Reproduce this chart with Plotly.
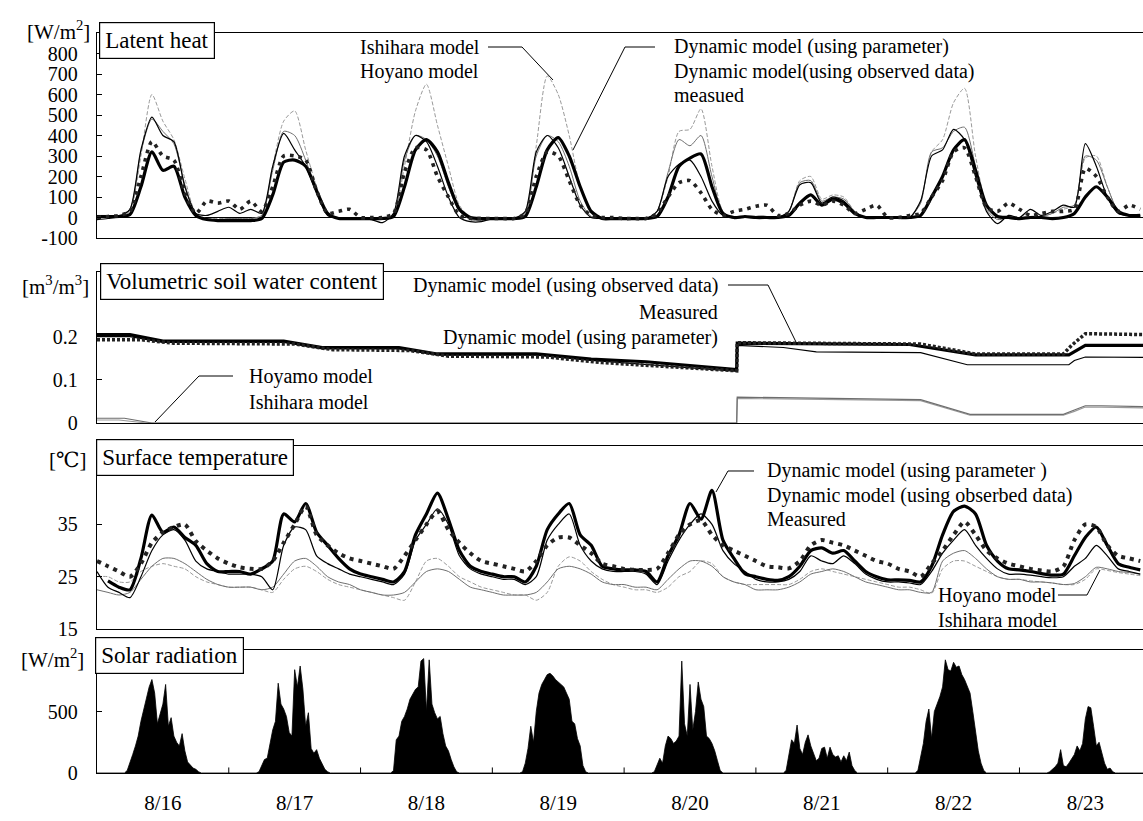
import plotly.graph_objects as go

W, H = 1143, 821
FONT = "Liberation Serif, Times New Roman, DejaVu Serif, serif"

# ---------------- data ----------------
dates = ["8/16", "8/17", "8/18", "8/19", "8/20", "8/21", "8/22", "8/23"]
HOURS_2H = list(range(0, 192, 2))          # 8/16 0:00 .. 8/23 22:00, every 2 h
SOLAR_STEP_START = 5.0                      # solar lists start at 5:00, every 30 min

# Latent heat [W/m2], one list per day (0,2,...,22 h)
lh_ishihara = [
    [5, 5, 5, 30, 300, 600, 470, 380, 190, 20, -5, -5],
    [-5, -5, -5, 10, 250, 470, 520, 330, 150, 20, -5, -5],
    [-5, -5, -10, 10, 250, 520, 650, 450, 250, 60, 0, -5],
    [-5, -5, -5, 20, 350, 690, 600, 400, 150, 20, -5, -5],
    [-5, -5, -5, 30, 200, 420, 430, 530, 250, 30, -5, 0],
    [5, 5, 0, 30, 180, 200, 90, 110, 100, 30, 0, 0],
    [0, 0, 0, 80, 320, 380, 560, 630, 300, 60, 0, 0],
    [0, 5, 5, 20, 40, 60, 290, 300, 150, 30, 10, 5],
]
lh_hoyano = [
    [10, 10, 10, 40, 320, 480, 420, 360, 160, 20, -10, -10],
    [-5, -5, -5, 10, 230, 420, 400, 280, 130, 20, -5, -5],
    [-5, -5, -10, 10, 280, 400, 380, 300, 150, 30, -10, -15],
    [-5, -5, -5, 20, 300, 400, 370, 250, 80, 5, -5, -5],
    [-5, -5, -5, 30, 220, 380, 350, 400, 200, 20, -5, 0],
    [5, 5, 0, 30, 170, 180, 80, 100, 90, 30, 0, 0],
    [0, 0, 0, 70, 320, 340, 420, 440, 250, 40, -10, 0],
    [0, 5, 5, 20, 50, 60, 300, 280, 150, 30, 10, 5],
]
lh_dyn_param = [
    [5, 5, 5, 15, 150, 320, 230, 250, 100, 10, -10, -15],
    [-15, -15, -15, -5, 110, 270, 280, 250, 130, 20, -5, -5],
    [-5, -5, -5, 5, 150, 330, 380, 320, 170, 40, 0, -5],
    [-5, -5, -5, 5, 150, 330, 390, 300, 150, 30, -5, -5],
    [-5, -5, -5, 5, 100, 250, 290, 310, 150, 20, 0, 5],
    [0, 0, 0, 10, 70, 110, 60, 90, 70, 20, 0, 0],
    [0, 0, 0, 10, 100, 200, 330, 380, 230, 60, 5, 0],
    [-5, 0, 0, -5, 0, 20, 100, 150, 100, 30, 10, 10],
]
lh_dyn_obs = [
    [-10, -5, 5, 40, 330, 490, 400, 370, 150, 20, 10, 30],
    [50, 20, 40, 20, 250, 410, 330, 250, 120, 10, 0, -5],
    [-5, -10, -25, 20, 300, 400, 370, 250, 100, 0, -20, -20],
    [-5, -5, -5, 30, 320, 400, 340, 200, 60, 0, -5, -5],
    [-5, -5, -5, 30, 200, 260, 280, 200, 80, 10, 5, 5],
    [5, 5, 0, 30, 160, 170, 70, 100, 80, 25, 0, 0],
    [0, 0, 0, 80, 300, 330, 430, 380, 200, 30, -30, 10],
    [0, 40, 10, 30, 60, 50, 360, 250, 100, 20, 10, 10],
]
lh_measured = [
    [0, 5, 10, 30, 200, 370, 300, 280, 120, 20, 80, 70],
    [80, 40, 80, 30, 150, 300, 300, 280, 130, 20, 30, 40],
    [0, 0, 0, 20, 220, 340, 330, 200, 100, 10, -5, -5],
    [-5, -5, -5, 20, 200, 320, 300, 180, 60, 10, 0, 0],
    [-5, -5, -5, 20, 100, 170, 180, 120, 40, 10, 30, 40],
    [55, 60, 10, 20, 60, 80, 60, 80, 60, 20, 40, 60],
    [0, 0, 10, 20, 100, 180, 320, 340, 200, 50, 30, 70],
    [40, 10, 20, 30, 30, 40, 240, 200, 100, 30, 60, 40],
]

# Volumetric soil water content [m3/m3] : (hour, value) break points
sw_dyn_param_t = [0, 6, 12, 34, 41, 55, 62, 80, 90, 100, 116.5, 116.6, 148, 160, 177, 178, 180, 190.5]
sw_dyn_param_v = [0.205, 0.205, 0.19, 0.19, 0.175, 0.175, 0.16, 0.16, 0.148, 0.142, 0.124, 0.185, 0.182, 0.158, 0.158, 0.165, 0.18, 0.18]
sw_measured_t = [0, 8, 14, 36, 43, 57, 64, 82, 92, 116.5, 116.6, 150, 160, 176, 177.5, 178.5, 180, 190.5]
sw_measured_v = [0.193, 0.193, 0.185, 0.183, 0.17, 0.168, 0.155, 0.153, 0.14, 0.121, 0.186, 0.183, 0.16, 0.16, 0.18, 0.19, 0.207, 0.205]
sw_dyn_obs_t = [0, 6, 12, 34, 41, 55, 62, 80, 90, 116.5, 116.6, 125, 131, 150, 158.5, 177, 178, 180, 190.5]
sw_dyn_obs_v = [0.2, 0.2, 0.187, 0.187, 0.172, 0.172, 0.157, 0.157, 0.145, 0.12, 0.18, 0.175, 0.165, 0.163, 0.135, 0.135, 0.145, 0.153, 0.152]
sw_hoyano_t = [0, 5, 10, 116.5, 116.6, 150, 159, 176, 178, 180, 183, 190.5]
sw_hoyano_v = [0.011, 0.011, 0.0, 0.0, 0.06, 0.054, 0.02, 0.02, 0.03, 0.04, 0.04, 0.038]
sw_ishihara_t = [0, 4, 9, 116.5, 116.6, 150, 159, 176, 178, 180, 183, 190.5]
sw_ishihara_v = [0.007, 0.007, 0.0, 0.0, 0.057, 0.052, 0.018, 0.018, 0.027, 0.037, 0.037, 0.035]

# Surface temperature [C], one list per day (0,2,...,22 h)
st_dyn_param = [
    [None, 24.2, 23.0, 22.5, 28.5, 36.8, 33.5, 34.5, 32.5, 31.0, 27.5, 26.0],
    [26.0, 26.0, 25.5, 26.5, 28.0, 37.0, 35.5, 39.0, 33.5, 31.0, 28.5, 26.5],
    [25.5, 25.0, 24.5, 24.0, 26.0, 33.0, 37.0, 41.0, 36.0, 30.0, 27.0, 26.0],
    [25.5, 25.0, 25.0, 24.0, 27.0, 34.0, 37.0, 39.0, 33.0, 31.0, 27.0, 26.5],
    [26.3, 26.3, 26.0, 24.0, 29.0, 33.0, 39.0, 36.0, 41.5, 32.0, 28.5, 25.6],
    [25.0, 24.5, 24.3, 25.0, 27.0, 30.0, 30.5, 29.5, 30.0, 28.0, 26.0, 25.0],
    [24.4, 24.4, 24.3, 24.0, 27.0, 33.0, 37.5, 38.5, 37.0, 31.0, 28.0, 26.5],
    [26.3, 26.0, 25.6, 25.3, 25.5, 29.0, 32.5, 34.5, 31.0, 27.5, 26.8, 26.3],
]
st_dyn_obs = [
    [26.0, 23.0, 22.0, 21.0, 25.0, 30.0, 33.0, 34.0, 32.0, 28.0, 26.5, 26.0],
    [25.5, 25.5, 25.5, 25.0, 22.5, 31.0, 34.5, 34.0, 29.0, 27.5, 26.5, 25.5],
    [25.0, 24.5, 24.0, 23.5, 25.5, 32.0, 35.0, 38.0, 35.0, 29.0, 26.5, 25.5],
    [25.0, 24.5, 24.5, 23.5, 25.0, 32.0, 35.0, 37.0, 31.0, 28.0, 26.5, 26.0],
    [26.0, 26.0, 25.5, 23.5, 28.0, 32.0, 35.0, 37.0, 35.0, 30.0, 27.5, 26.0],
    [24.5, 24.0, 24.0, 24.5, 26.0, 29.0, 28.0, 27.5, 29.0, 27.5, 25.5, 24.5],
    [24.0, 24.0, 23.8, 23.5, 26.0, 29.5, 32.0, 34.0, 31.0, 28.5, 26.5, 25.5],
    [25.5, 25.3, 25.0, 24.8, 25.0, 27.0, 28.5, 31.0, 29.0, 26.5, 26.0, 25.5],
]
st_measured = [
    [28.0, 27.0, 26.0, 25.0, 27.5, 31.5, 33.5, 34.5, 35.0, 31.8, 30.0, 28.5],
    [27.5, 26.8, 26.5, 26.5, 28.0, 31.5, 35.0, 38.5, 33.0, 31.0, 29.5, 28.5],
    [28.0, 27.5, 27.0, 26.5, 29.0, 32.0, 35.0, 37.5, 34.0, 31.5, 29.5, 28.0],
    [27.5, 27.0, 26.5, 26.0, 28.0, 31.0, 32.5, 32.5, 31.0, 29.5, 27.5, 27.0],
    [26.5, 26.3, 26.3, 26.5, 29.5, 33.0, 35.0, 35.8, 33.0, 31.0, 30.0, 29.0],
    [28.0, 27.0, 26.8, 26.6, 28.0, 31.0, 32.0, 31.5, 31.0, 30.0, 29.0, 28.0],
    [27.5, 26.5, 26.0, 25.0, 27.5, 30.0, 33.0, 35.5, 33.0, 30.0, 28.5, 27.5],
    [27.0, 26.5, 26.2, 26.0, 27.0, 32.0, 35.0, 34.5, 31.0, 29.0, 28.5, 28.0],
]
st_hoyano = [
    [22.5, 22.0, 21.5, 22.0, 24.5, 27.0, 28.5, 28.5, 27.5, 26.0, 24.5, 23.5],
    [23.0, 23.0, 23.0, 22.5, 23.0, 25.5, 28.0, 28.5, 27.0, 25.0, 24.0, 23.5],
    [22.5, 22.0, 21.5, 21.5, 22.0, 24.0, 26.0, 26.5, 26.0, 24.5, 23.0, 22.5],
    [22.0, 21.5, 21.5, 21.5, 22.0, 24.0, 26.5, 27.0, 26.5, 25.5, 24.0, 23.5],
    [23.5, 23.0, 23.0, 22.5, 24.5, 26.5, 28.0, 28.0, 27.0, 25.0, 24.0, 23.5],
    [22.5, 22.5, 22.5, 23.0, 24.0, 25.5, 26.0, 26.5, 26.0, 25.0, 24.0, 23.5],
    [23.0, 22.5, 22.5, 22.0, 22.0, 28.0, 29.5, 30.0, 28.5, 26.5, 25.0, 24.5],
    [24.5, 24.0, 24.0, 23.8, 23.5, 23.7, 25.0, 26.8, 26.5, 26.0, 25.8, 25.5],
]
st_ishihara = [
    [25.0, 25.0, 24.0, 24.0, 26.0, 27.0, 27.5, 27.0, 26.5, 25.0, 24.0, 23.5],
    [23.0, 23.0, 23.0, 22.5, 22.0, 24.5, 26.5, 27.0, 26.0, 24.5, 23.5, 23.0],
    [22.5, 22.0, 21.5, 21.0, 20.5, 24.0, 28.0, 28.5, 27.0, 25.0, 24.0, 23.0],
    [22.5, 22.0, 21.5, 21.5, 20.5, 22.0, 27.0, 28.8, 28.0, 26.0, 24.5, 23.5],
    [23.0, 22.5, 22.5, 22.0, 23.0, 25.0, 26.0, 28.0, 27.5, 25.0, 24.0, 23.5],
    [23.5, 23.5, 23.5, 23.5, 24.5, 26.0, 26.5, 26.0, 25.5, 25.0, 24.5, 24.0],
    [23.5, 23.0, 23.0, 22.5, 21.8, 26.5, 28.0, 28.0, 27.0, 26.0, 25.0, 24.5],
    [24.5, 24.2, 24.0, 23.8, 23.5, 23.5, 24.5, 26.5, 26.2, 25.8, 25.5, 25.2],
]

# Solar radiation [W/m2], one list per day, 5:00 .. 19:00 every 30 min
solar = [
    [0, 20, 80, 150, 220, 300, 420, 520, 600, 700, 760, 650, 400, 480, 560, 720, 380, 450, 300, 250, 220, 320, 180, 90, 60, 40, 30, 10, 0],
    [0, 10, 60, 110, 120, 250, 350, 420, 730, 560, 520, 460, 330, 300, 840, 700, 870, 680, 380, 490, 200, 160, 190, 120, 70, 30, 10, 0, 0],
    [0, 0, 20, 270, 300, 420, 460, 520, 600, 640, 680, 700, 910, 930, 500, 920, 560, 490, 440, 460, 320, 220, 180, 110, 50, 10, 0, 0, 0],
    [0, 10, 80, 200, 380, 250, 500, 650, 720, 760, 800, 810, 790, 760, 740, 720, 700, 650, 600, 420, 400, 280, 220, 60, 10, 0, 0, 0, 0],
    [0, 10, 60, 120, 80, 220, 300, 280, 240, 260, 300, 910, 400, 300, 720, 350, 500, 740, 600, 540, 300, 280, 240, 180, 100, 20, 0, 0, 0],
    [0, 20, 150, 270, 240, 390, 200, 150, 250, 310, 220, 160, 100, 120, 200, 210, 120, 210, 150, 130, 140, 90, 140, 100, 170, 60, 20, 0, 0],
    [0, 20, 120, 240, 420, 520, 280, 500, 560, 620, 700, 920, 840, 830, 900, 860, 870, 800, 760, 700, 650, 500, 320, 180, 80, 20, 0, 0, 0],
    [0, 10, 30, 50, 80, 190, 60, 50, 80, 120, 150, 220, 180, 240, 440, 540, 530, 380, 220, 250, 160, 80, 30, 40, 10, 0, 0, 0, 0],
]


def flat(days):
    return [v for day in days for v in day]


solar_x, solar_y = [0.0], [0.0]
for d, day in enumerate(solar):
    for k, v in enumerate(day):
        solar_x.append(24 * d + SOLAR_STEP_START + 0.5 * k)
        solar_y.append(v)
solar_x.append(190.5)
solar_y.append(0.0)

# ---------------- figure ----------------
fig = go.Figure()


def px(x):
    return x / W


def py(y):
    return 1 - y / H


def line(x, y, ax, color, width, dash="solid", shape="spline"):
    fig.add_trace(go.Scatter(
        x=x, y=y, mode="lines", xaxis="x" + ax, yaxis="y" + ax,
        line=dict(color=color, width=width, dash=dash, shape=shape, smoothing=0.7),
        showlegend=False, hoverinfo="skip"))


GRAY_D = "#9a9a9a"
GRAY_S = "#6e6e6e"

# Panel 1: latent heat
line(HOURS_2H, flat(lh_ishihara), "", GRAY_D, 1.0, "4px,2px")
line(HOURS_2H, flat(lh_hoyano), "", GRAY_S, 1.0)
line(HOURS_2H, flat(lh_dyn_obs), "", "black", 1.2)
line(HOURS_2H, flat(lh_dyn_param), "", "black", 3.2)
line(HOURS_2H, flat(lh_measured), "", "#222", 3.6, "3.6px,5px")

# Panel 2: soil water
line(sw_ishihara_t, sw_ishihara_v, "2", GRAY_D, 1.2, shape="linear")
line(sw_hoyano_t, sw_hoyano_v, "2", GRAY_S, 1.2, shape="linear")
line(sw_dyn_obs_t, sw_dyn_obs_v, "2", "black", 1.2, shape="linear")
line(sw_dyn_param_t, sw_dyn_param_v, "2", "black", 3.2, shape="linear")
line(sw_measured_t, sw_measured_v, "2", "#222", 3.5, "3px,2px", shape="linear")

# Panel 3: surface temperature
line(HOURS_2H, flat(st_ishihara), "3", GRAY_D, 1.0, "4px,2px")
line(HOURS_2H, flat(st_hoyano), "3", GRAY_S, 1.0)
line(HOURS_2H, flat(st_dyn_obs), "3", "black", 1.2)
line(HOURS_2H, flat(st_dyn_param), "3", "black", 3.2)
line(HOURS_2H, flat(st_measured), "3", "#222", 4.0, "4px,5px")

# Panel 4: solar radiation
fig.add_trace(go.Scatter(
    x=solar_x, y=solar_y, mode="lines", xaxis="x4", yaxis="y4",
    fill="tozeroy", fillcolor="black", line=dict(color="black", width=0.8),
    showlegend=False, hoverinfo="skip"))

# ---------------- axes ----------------
XDOM = [97 / W, 1.0]
doms = {
    "": (33, 238),
    "2": (272, 423),
    "3": (446, 629),
    "4": (650, 773),
}
tickfont = dict(family=FONT, size=20, color="black")


def xaxis(anchor, labels=False):
    d = dict(domain=XDOM, range=[0, 190.5], anchor=anchor, showline=True, linecolor="black",
             linewidth=1.3, mirror=True, showgrid=False, zeroline=False, fixedrange=True)
    if labels:
        d.update(tickmode="array", tickvals=[12 + 24 * i for i in range(len(dates))], ticktext=dates,
                 ticks="outside", ticklen=11, tickcolor="rgba(0,0,0,0)",
                 tickfont=dict(family=FONT, size=21, color="black"))
    else:
        d.update(showticklabels=False, ticks="")
    return d


def yaxis(key, rng, vals, texts, zero=False):
    top, bot = doms[key]
    return dict(domain=[py(bot), py(top)], range=rng, anchor="x" + key, tickmode="array",
                tickvals=vals, ticktext=texts, ticks="inside", ticklen=5, tickcolor="black",
                showline=True, linecolor="black", linewidth=1.3, showgrid=False,
                zeroline=zero, zerolinecolor="black", zerolinewidth=1,
                tickfont=tickfont, ticklabelstandoff=14, fixedrange=True)


lh_ticks = [-100, 0, 100, 200, 300, 400, 500, 600, 700, 800]
fig.update_layout(
    xaxis=xaxis("y"),
    xaxis2=xaxis("y2"),
    xaxis3=xaxis("y3"),
    xaxis4=xaxis("y4", labels=True),
    yaxis=yaxis("", [-100, 900], lh_ticks, [str(v) for v in lh_ticks], zero=True),
    yaxis2=yaxis("2", [0, 0.35], [0, 0.1, 0.2], ["0", "0.1", "0.2"]),
    yaxis3=yaxis("3", [15, 50], [15, 25, 35], ["15", "25", "35"]),
    yaxis4=yaxis("4", [0, 1000], [0, 500], ["0", "500"]),
)

# ---------------- annotations ----------------
ann = []
for txt, xr, yc in [("[W/m<sup>2</sup>]", 92, 30), ("[m<sup>3</sup>/m<sup>3</sup>]", 91, 285),
                    ("[℃]", 88, 460), ("[W/m<sup>2</sup>]", 86, 658)]:
    ann.append(dict(text=txt, x=px(xr), y=py(yc), xref="paper", yref="paper",
                    xanchor="right", yanchor="middle", showarrow=False,
                    font=dict(family=FONT, size=21, color="black")))

for txt, xl, yt in [("Latent heat", 99, 22), ("Volumetric soil water content", 100, 263),
                    ("Surface temperature", 96, 439), ("Solar radiation", 95, 637)]:
    ann.append(dict(text=txt, x=px(xl), y=py(yt), xref="paper", yref="paper",
                    xanchor="left", yanchor="top", showarrow=False, bgcolor="white",
                    bordercolor="black", borderwidth=1.2, borderpad=5,
                    font=dict(family=FONT, size=23, color="black")))

callouts_left = [
    ("Ishihara model", 358, 47), ("Hoyano model", 358, 71),
    ("Dynamic model (using parameter)", 672, 47), ("Dynamic model(using observed data)", 672, 71),
    ("measued", 672, 95),
    ("Hoyamo model", 247, 376), ("Ishihara model", 247, 402),
    ("Dynamic model (using parameter )", 765, 471), ("Dynamic model (using obserbed data)", 765, 495),
    ("Measured", 765, 519),
    ("Hoyano model", 936, 595), ("Ishihara model", 936, 620),
]
for txt, xl, yc in callouts_left:
    ann.append(dict(text=txt, x=px(xl), y=py(yc), xref="paper", yref="paper",
                    xanchor="left", yanchor="middle", showarrow=False,
                    font=dict(family=FONT, size=20, color="black")))
callouts_right = [
    ("Dynamic model (using observed data)", 720, 285), ("Measured", 720, 312),
    ("Dynamic model (using parameter)", 720, 337),
]
for txt, xr, yc in callouts_right:
    ann.append(dict(text=txt, x=px(xr), y=py(yc), xref="paper", yref="paper",
                    xanchor="right", yanchor="middle", showarrow=False,
                    font=dict(family=FONT, size=20, color="black")))

shapes = []
leaders = [
    [(488, 47), (522, 47), (553, 80)],
    [(655, 47), (625, 47), (573, 150)],
    [(728, 285), (768, 285), (796, 342)],
    [(233, 376), (199, 376), (155, 422)],
    [(754, 471), (728, 471), (716, 492)],
    [(1058, 595), (1087, 595), (1100, 570)],
]
for pts in leaders:
    path = "M " + " L ".join(f"{px(a):.5f},{py(b):.5f}" for a, b in pts)
    shapes.append(dict(type="path", path=path, xref="paper", yref="paper",
                       line=dict(color="black", width=1)))
# midnight tick marks on the solar-radiation time axis
for i in range(1, len(dates)):
    shapes.append(dict(type="line", xref="x4", yref="y4", x0=24 * i, x1=24 * i, y0=0, y1=45,
                       line=dict(color="black", width=1)))

fig.update_layout(
    width=W, height=H, margin=dict(l=0, r=0, t=0, b=0, autoexpand=False),
    paper_bgcolor="white", plot_bgcolor="white",
    annotations=ann, shapes=shapes, showlegend=False,
    font=dict(family=FONT, color="black"),
)

fig.write_html("out.html", config={"displayModeBar": False},
               post_script="document.body.style.margin='0px';document.body.style.overflow='hidden';")
